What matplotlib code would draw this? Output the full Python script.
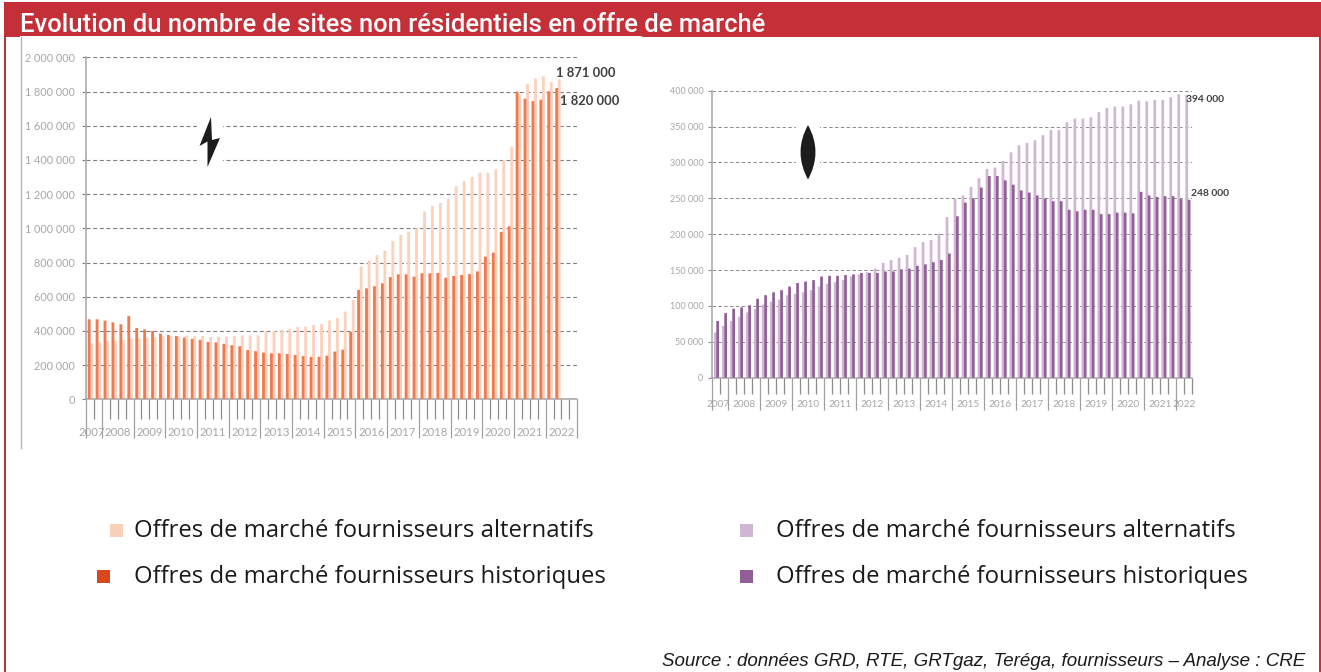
import matplotlib
matplotlib.use('Agg')
import matplotlib.pyplot as plt
import matplotlib.patches as mpatches
from matplotlib.path import Path
from matplotlib.ticker import FuncFormatter
import numpy as np

W, H = 1321, 672
RED = '#C42F38'
GREY = '#A6A6A6'

# years, first label only covers two quarters on the left of each chart
years = list(range(2007, 2023))

# sites, thousands, one value per quarter
elec_hist = [468, 468, 460, 450, 439, 487, 417, 409, 400, 384, 376, 370, 361, 353, 347,
             335, 333, 324, 316, 310, 288, 281, 273, 269, 269, 265, 259, 253, 248, 248,
             255, 279, 290, 394, 639, 649, 661, 678, 715, 731, 731, 717, 737, 737, 739,
             711, 721, 727, 733, 748, 834, 858, 978, 1012, 1799, 1758, 1744, 1752, 1801, 1820]
elec_alt = [327, 333, 341, 341, 347, 353, 355, 359, 364, 368, 370, 368, 372, 370, 370,
            364, 366, 366, 370, 374, 374, 374, 396, 400, 405, 411, 423, 425, 435, 440,
            460, 476, 513, 581, 776, 813, 844, 869, 926, 961, 980, 1000, 1099, 1130, 1148,
            1171, 1247, 1275, 1300, 1325, 1325, 1345, 1399, 1477, 1783, 1844, 1877, 1889, 1854, 1871]
gaz_alt = [63, 72, 79, 85, 91, 96, 102, 106, 109, 115, 117, 119, 122, 127, 131,
           133, 136, 141, 144, 147, 152, 160, 164, 167, 171, 182, 189, 192, 201, 224,
           249, 254, 266, 278, 291, 293, 302, 314, 324, 327, 331, 338, 345, 345, 356,
           361, 361, 363, 370, 376, 378, 378, 381, 386, 385, 387, 387, 391, 395, 394]
gaz_hist = [79, 90, 96, 98, 101, 110, 115, 119, 122, 127, 132, 134, 136, 141, 142,
            142, 143, 144, 146, 146, 146, 148, 148, 151, 152, 156, 158, 161, 164, 173,
            225, 244, 250, 265, 281, 281, 275, 269, 261, 258, 254, 250, 246, 246, 234,
            232, 234, 234, 228, 228, 230, 230, 229, 259, 254, 252, 253, 253, 249, 248]


def fr_thousands(v, pos=None):
    return f'{int(round(v)):,}'.replace(',', ' ')


def px_axes(fig, left, top, right, bottom):
    return fig.add_axes([left / W, 1 - bottom / H, (right - left) / W, (bottom - top) / H])


def draw_chart(ax, first, second, col1, col2, nslots, ymax, ystep, offs, year_edges,
               bar_w, grid_col, grid_w, major_len, minor_len, label_y, fs, yfs, pad):
    x = np.arange(len(first))
    ax.bar(x + offs[0], first, width=bar_w, color=col1, zorder=3, snap=False, lw=0)
    ax.bar(x + offs[1], second, width=bar_w, color=col2, zorder=2, snap=False, lw=0)
    ax.set_xlim(0, nslots)
    ax.set_ylim(0, ymax)
    ax.set_yticks(np.arange(0, ymax + 1, ystep))
    ax.yaxis.set_major_formatter(FuncFormatter(fr_thousands))
    ax.grid(axis='y', color=grid_col, linestyle=(0, (3.6, 2.4)), linewidth=grid_w, zorder=1)
    ax.set_axisbelow(True)
    for s in ['top', 'right']:
        ax.spines[s].set_visible(False)
    for s in ['left', 'bottom']:
        ax.spines[s].set_color(GREY)
        ax.spines[s].set_linewidth(1.1)
    ax.patch.set_alpha(0)
    ax.set_xticks(year_edges)
    ax.set_xticklabels([])
    ax.set_xticks(np.arange(0, nslots + 1), minor=True)
    ax.tick_params(axis='x', which='major', length=major_len, color='#A0A0A0', width=0.9)
    ax.tick_params(axis='x', which='minor', length=minor_len, color='#8C8C8C', width=0.9)
    ax.tick_params(axis='y', length=3, color=grid_col, labelcolor=GREY, labelsize=yfs, pad=pad, width=0.8)
    tr = ax.get_xaxis_transform()
    edges = list(year_edges)
    if edges[-1] < nslots:
        edges.append(nslots)
    for y, a, b in zip(years, edges[:-1], edges[1:]):
        # 2007 sits a little left so it clears 2008
        dx = -1.6 if y == 2007 else 0
        ax.annotate(str(y), ((a + b) / 2, 0), xycoords=tr, xytext=(dx, label_y), textcoords='offset points',
                    ha='center', va='center', color=GREY, fontsize=fs)


plt.rcParams['font.family'] = ['Lato', 'DejaVu Sans']
fig = plt.figure(figsize=(W / 100, H / 100), dpi=100, facecolor='white')

# left, electricity: 62 slots
ax1 = px_axes(fig, 86, 57.3, 577.3, 399.3)
edges1 = [0] + list(range(2, 63, 4))
draw_chart(ax1, np.array(elec_hist) * 1000, np.array(elec_alt) * 1000, '#F07A50', '#FBD2BE',
           62, 2000000, 200000, (0.40, 0.72), edges1,
           0.36, '#7F7F7F', 0.8, 28, 14.5, -24, 8.2, 7.8, 4.8)

# right, gas: 60 slots
ax2 = px_axes(fig, 712.3, 90.7, 1191.7, 377.7)
edges2 = [0] + list(range(2, 61, 4))
draw_chart(ax2, np.array(gaz_hist) * 1000, np.array(gaz_alt) * 1000, '#8F5F95', '#D0B5D4',
           60, 400000, 50000, (0.67, 0.38), edges2,
           0.34, '#8C8C8C', 0.7, 23, 11.3, -19, 7.2, 6.5, 3.5)

# page furniture, in pixel coordinates
ov = fig.add_axes([0, 0, 1, 1], zorder=10)
ov.set_xlim(0, W)
ov.set_ylim(H, 0)
ov.axis('off')
ov.patch.set_alpha(0)

ov.add_patch(mpatches.Rectangle((4, 2), W - 4, 35, color=RED, lw=0))
ov.add_patch(mpatches.Rectangle((4, 2), 2, H, color=RED, lw=0))
ov.add_patch(mpatches.Rectangle((1319, 2), 2, H, color=RED, lw=0))
ov.add_patch(mpatches.Rectangle((20, 36), 622, 1.2, color='white', lw=0))
ov.plot([20.5, 20.5], [37, 448], color='#B5B5B5', lw=1)
ov.text(20, 24.5, 'Evolution du nombre de sites non résidentiels en offre de marché', color='white',
        fontsize=18.45, fontweight='medium', family=['Roboto', 'DejaVu Sans'], va='center', ha='left')

# white gaps behind the two energy icons
ov.add_patch(mpatches.Rectangle((197, 100), 26, 75, color='white', lw=0))
ov.add_patch(mpatches.Rectangle((796, 118), 24, 68, color='white', lw=0))

bolt = [(211, 117), (199.5, 146), (207.5, 141.5), (207.5, 167), (220, 138), (212, 140), (211, 117)]
ov.add_patch(mpatches.Polygon(bolt, closed=True, color='#1C1C1C', lw=0))
lens = Path([(808, 125), (793, 152), (808, 179.5), (823, 152), (808, 125)],
            [Path.MOVETO, Path.CURVE3, Path.CURVE3, Path.CURVE3, Path.CURVE3])
ov.add_patch(mpatches.PathPatch(lens, color='#1C1C1C', lw=0))

# end values
for x, y, s, fs in [(556, 73, '1 871 000', 9.4), (560, 101, '1 820 000', 9.4),
                    (1186, 99, '394 000', 7.4), (1191, 193, '248 000', 7.4)]:
    ov.text(x, y, s, color='#404040', fontsize=fs, fontweight='bold', va='center', ha='left')

# legends
leg_font = ['Open Sans', 'DejaVu Sans']
legend_rows = [
    (110, 524, '#FBD0BA', 134, 531, 'Offres de marché fournisseurs alternatifs'),
    (97, 570, '#D9481C', 134, 577, 'Offres de marché fournisseurs historiques'),
    (740, 524, '#D0B5D4', 776, 531, 'Offres de marché fournisseurs alternatifs'),
    (740, 570, '#8F5F95', 776, 577, 'Offres de marché fournisseurs historiques'),
]
for mx, my, col, tx, ty, label in legend_rows:
    ov.add_patch(mpatches.Rectangle((mx, my), 13, 13, color=col, lw=0))
    ov.text(tx, ty, label, color='#1A1A1A', fontsize=17.2, family=leg_font, va='center', ha='left')

ov.text(1305, 662, 'Source : données GRD, RTE, GRTgaz, Teréga, fournisseurs – Analyse : CRE', color='#1A1A1A',
        fontsize=13.5, style='italic', family=['Liberation Sans', 'DejaVu Sans'], va='center', ha='right')

fig.savefig('out.png', dpi=100, facecolor='white')
